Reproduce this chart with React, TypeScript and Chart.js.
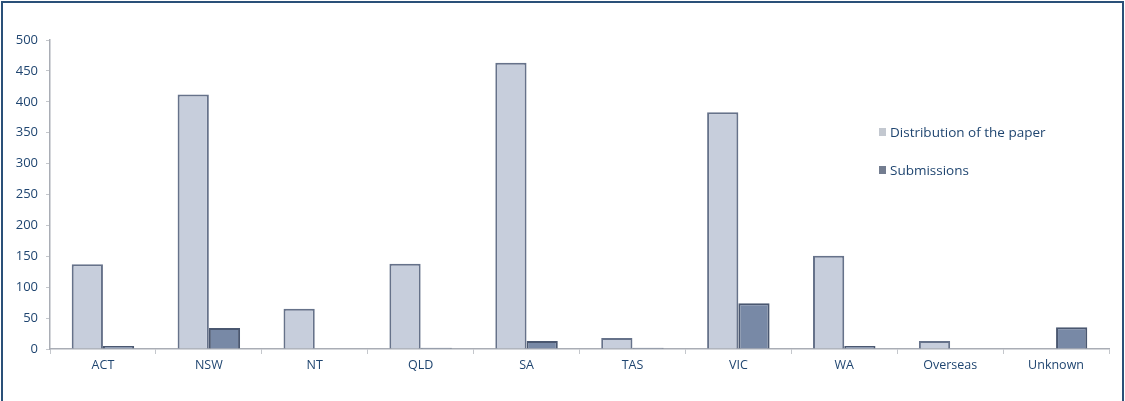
import React, { useEffect, useRef } from "react";
import { Chart, registerables } from "chart.js";

Chart.register(...registerables);

const categories = ["ACT", "NSW", "NT", "QLD", "SA", "TAS", "VIC", "WA", "Overseas", "Unknown"];
const distributionValues = [137, 412, 65, 138, 463, 18, 383, 151, 13, 0];
const submissionValues = [5, 34, 0, 2, 13, 2, 74, 5, 0, 35];
const seriesLabels = ["Distribution of the paper", "Submissions"];
const yTickMax = 500;
const yTickStep = 50;

const textColor = "#1f4570";
const fontFamily = "'Open Sans', sans-serif";

export default function App() {
  const canvasRef = useRef<HTMLCanvasElement | null>(null);

  useEffect(() => {
    if (!canvasRef.current) return;
    const chart = new Chart(canvasRef.current, {
      type: "bar",
      data: {
        labels: categories,
        datasets: [
          {
            label: seriesLabels[0],
            data: distributionValues,
            backgroundColor: "#c7cedc",
            borderColor: "#66728a",
            borderWidth: 2,
            categoryPercentage: 0.59,
            barPercentage: 1,
          },
          {
            label: seriesLabels[1],
            data: submissionValues,
            backgroundColor: "#7889a6",
            borderColor: "#4a5770",
            borderWidth: 2,
            categoryPercentage: 0.59,
            barPercentage: 1,
          },
        ],
      },
      options: {
        animation: false,
        responsive: false,
        maintainAspectRatio: false,
        layout: { padding: { top: 40, right: 16, left: 0, bottom: 0 } },
        plugins: {
          legend: { display: false },
          tooltip: { enabled: false },
        },
        scales: {
          x: {
            grid: {
              offset: true,
              drawOnChartArea: false,
              drawTicks: true,
              tickLength: 5,
              color: "#c4c7cc",
            },
            border: { display: true, color: "#a9adb5", width: 1.5 },
            ticks: {
              color: textColor,
              font: { family: fontFamily, size: 12.5 },
              padding: 4,
              maxRotation: 0,
            },
            afterFit: (scale: any) => {
              scale.height = 52;
            },
          },
          y: {
            min: 0,
            max: yTickMax,
            grid: {
              drawOnChartArea: false,
              drawTicks: true,
              tickLength: 4,
              color: "#c4c7cc",
            },
            border: { display: true, color: "#a9adb5", width: 1.5 },
            ticks: {
              stepSize: yTickStep,
              color: textColor,
              font: { family: fontFamily, size: 13 },
              padding: 8,
            },
            afterFit: (scale: any) => {
              scale.width = 50;
            },
          },
        },
      },
    });
    return () => chart.destroy();
  }, []);

  const legendItem = (label: string, color: string, top: number) => (
    <div
      style={{
        position: "absolute",
        left: 879,
        top: top - 10,
        display: "flex",
        alignItems: "center",
        fontFamily,
        fontSize: 13.5,
        color: textColor,
        whiteSpace: "nowrap",
      }}
    >
      <span
        style={{
          display: "inline-block",
          width: 7,
          height: 8,
          background: color,
          marginRight: 4,
        }}
      />
      {label}
    </div>
  );

  return (
    <div
      style={{
        position: "fixed",
        left: 0,
        top: 0,
        width: 1125,
        height: 401,
        background: "#ffffff",
        overflow: "hidden",
      }}
    >
      <canvas ref={canvasRef} width={1125} height={401} style={{ position: "absolute", left: 0, top: 0 }} />
      <div
        style={{
          position: "absolute",
          left: 1,
          top: 1,
          width: 1119,
          height: 420,
          border: "2px solid #2a5078",
          pointerEvents: "none",
        }}
      />
      {legendItem(seriesLabels[0], "#c3c8d0", 133)}
      {legendItem(seriesLabels[1], "#737d90", 171)}
    </div>
  );
}
